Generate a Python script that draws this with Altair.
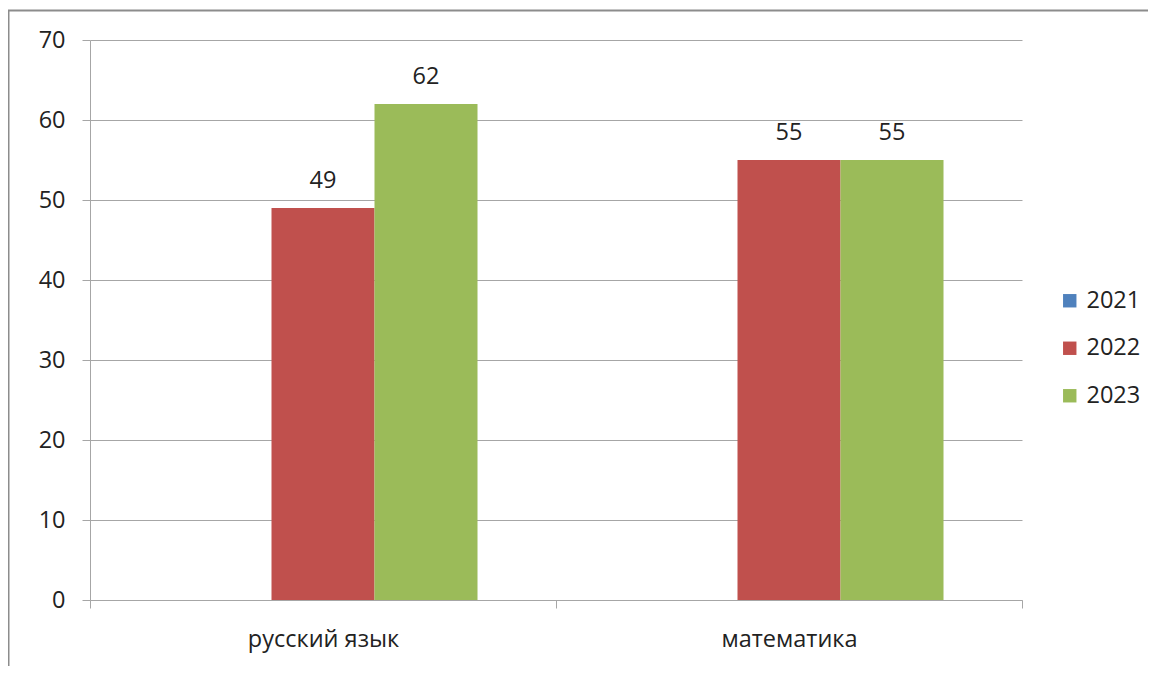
import altair as alt
import pandas as pd

subjects = ["русский язык", "математика"]
years = ["2021", "2022", "2023"]
values_2021 = [0, 0]
values_2022 = [49, 55]
values_2023 = [62, 55]
colors = ["#4F81BD", "#C0504D", "#9BBB59"]
y_ticks = [0, 10, 20, 30, 40, 50, 60, 70]

rows = []
for yr, vals in zip(years, [values_2021, values_2022, values_2023]):
    for s, v in zip(subjects, vals):
        rows.append({"subject": s, "year": yr, "value": v,
                     "label": str(v) if v else ""})
df = pd.DataFrame(rows)

FONT = "Open Sans"
FS = 23.5
TXT = "#222222"
GRID = "#a6a6a6"

x_enc = alt.X("subject:N", sort=subjects, title=None,
              scale=alt.Scale(paddingInner=0, paddingOuter=0),
              axis=alt.Axis(labelAngle=0, tickBand="extent", grid=False,
                            domainColor=GRID, tickColor=GRID, tickSize=8,
                            labelPadding=19, labelFont=FONT, labelFontSize=FS,
                            labelColor=TXT))
xo_enc = alt.XOffset("year:N", sort=years,
                     scale=alt.Scale(paddingInner=0, paddingOuter=0.762))

bars = alt.Chart(df).mark_bar().encode(
    x=x_enc,
    xOffset=xo_enc,
    y=alt.Y("value:Q", title=None,
            scale=alt.Scale(domain=[0, 70], nice=False),
            axis=alt.Axis(values=y_ticks, grid=True, gridColor=GRID,
                          domainColor=GRID, tickColor=GRID, tickSize=8,
                          labelPadding=17, labelFont=FONT, labelFontSize=FS,
                          labelColor=TXT)),
    color=alt.Color("year:N", sort=years,
                    scale=alt.Scale(domain=years, range=colors),
                    legend=alt.Legend(title=None, orient="none",
                                      legendX=968, legendY=249,
                                      symbolType="square", symbolSize=180,
                                      symbolStrokeWidth=0,
                                      labelFont=FONT, labelFontSize=FS,
                                      labelColor=TXT, rowPadding=22.5,
                                      labelOffset=5)),
)

labels = alt.Chart(df).mark_text(baseline="middle", dy=-27, font=FONT,
                                 fontSize=FS, color=TXT).encode(
    x=alt.X("subject:N", sort=subjects),
    xOffset=xo_enc,
    y=alt.Y("value:Q"),
    text="label:N",
)

border = alt.Chart(pd.DataFrame({"a": [0]})).mark_rect(
    fill=None, stroke="#8c8c8c", strokeWidth=2).encode(
    x=alt.value(-81.5), x2=alt.value(1300),
    y=alt.value(-29.5), y2=alt.value(800))

chart = alt.layer(border, bars, labels).properties(
    width=932, height=560,
    autosize=alt.AutoSizeParams(type="none"),
    padding={"left": 82, "top": 32, "right": 126, "bottom": 66},
    background="white",
).configure_view(stroke=None)

chart.save("out.html", embed_options={"renderer": "svg", "actions": False})
